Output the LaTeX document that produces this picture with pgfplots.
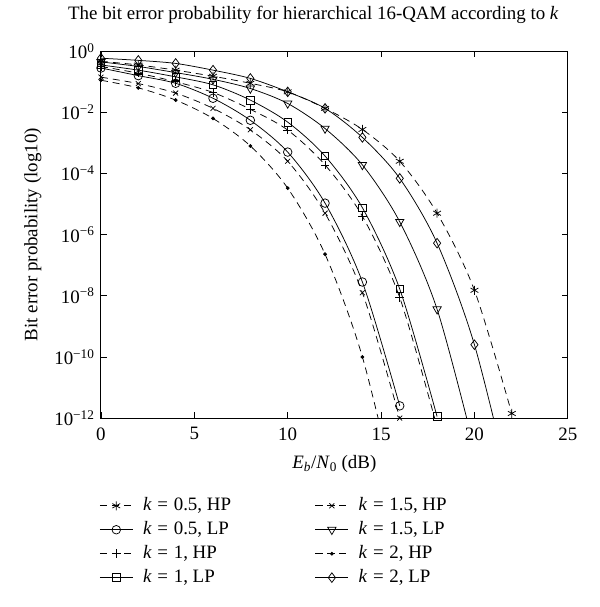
\documentclass[border=0pt]{standalone}
\usepackage{pgfplots}
\pgfplotsset{compat=1.18}
\usepackage{fontspec}
\setmainfont{Liberation Serif}
\newcommand{\kk}[1]{\textit{k}\hspace{0.3em}=\hspace{0.3em}#1}
\begin{document}
\fontsize{19}{22}\selectfont
\begin{tikzpicture}[font=\fontsize{19}{22}\selectfont]
\begin{axis}[
  scale only axis, width=467bp, height=367bp,
  xmin=0, xmax=25, ymin=-12, ymax=0,
  xtick={0,5,...,25},
  ytick={-12,-10,...,0},
  yticklabels={10\textsuperscript{−12},10\textsuperscript{−10},10\textsuperscript{−8},10\textsuperscript{−6},10\textsuperscript{−4},10\textsuperscript{−2},10\textsuperscript{0}},
  /pgf/number format/assume math mode=true,
  tick align=inside, major tick length=6bp,
  axis line style={line width=1pt},
  every tick/.style={black, line width=0.8pt},
  xticklabel style={yshift=-3bp},
  title={The bit error probability for hierarchical 16-QAM according to \textit{k}},
  title style={xshift=-21bp, yshift=15bp},
  xlabel={\textit{E}\textsubscript{\textit{b}}/\textit{N}\textsubscript{0} (dB)},
  xlabel style={yshift=-2bp},
  ylabel={Bit error probability (log10)},
  legend columns=2,
  legend cell align=left,
  legend style={draw=none, fill=none, at={(-0.01,-0.206)}, anchor=north west,
    row sep=4pt,
    /tikz/every odd column/.append style={column sep=8bp},
    /tikz/every even column/.append style={column sep=82bp}},
  legend image code/.code={\draw[mark repeat=2,mark phase=2] plot coordinates {(0cm,0cm) (0.58cm,0cm) (1.16cm,0cm)};},
  hp/.style={black, line width=0.75pt, dash pattern=on 7pt off 5pt, mark options={solid, line width=0.75pt}},
  lp/.style={black, line width=0.75pt, solid, mark options={solid, line width=0.75pt}},
]
% order: 0.5HP, 1.5HP, 0.5LP, 1.5LP, 1HP, 2HP, 1LP, 2LP
\addplot[hp, smooth, mark=asterisk, mark size=4.5pt] coordinates {(0,-0.33)(2,-0.45)(4,-0.62)(6,-0.82)(8,-1.05)(10,-1.33)(12,-1.87)(14,-2.56)(16,-3.6)(18,-5.3)(20,-7.82)(22,-11.85)};
\addlegendentry{\kk{0.5}, HP}
\addplot[hp, smooth, mark=x, mark size=3.5pt] coordinates {(0,-0.85)(2,-1.06)(4,-1.37)(6,-1.87)(8,-2.57)(10,-3.6)(12,-5.3)(14,-7.9)(16,-12.0)};
\addlegendentry{\kk{1.5}, HP}
\addplot[lp, smooth, mark=o, mark size=4.3pt] coordinates {(0,-0.55)(2,-0.8)(4,-1.05)(6,-1.54)(8,-2.26)(10,-3.3)(12,-4.97)(14,-7.55)(16,-11.6)};
\addlegendentry{\kk{0.5}, LP}
\addplot[lp, smooth, mark=triangle, mark size=4.8pt, mark options={rotate=180}] coordinates {(0,-0.35)(2,-0.5)(4,-0.7)(6,-0.92)(8,-1.22)(10,-1.71)(12,-2.53)(14,-3.72)(16,-5.58)(18,-8.44)(20,-13.0)};
\addlegendentry{\kk{1.5}, LP}
\addplot[hp, smooth, mark=+, mark size=4.3pt] coordinates {(0,-0.5)(2,-0.72)(4,-1.0)(6,-1.35)(8,-1.9)(10,-2.58)(12,-3.72)(14,-5.4)(16,-8.06)(18,-12.3)};
\addlegendentry{\kk{1}, HP}
\addplot[hp, smooth, mark=*, mark size=1.5pt] coordinates {(0,-0.95)(2,-1.2)(4,-1.6)(6,-2.2)(8,-3.1)(10,-4.48)(12,-6.64)(14,-10.0)(16,-15)};
\addlegendentry{\kk{2}, HP}
\addplot[lp, smooth, mark=square, mark size=3.8pt] coordinates {(0,-0.45)(2,-0.62)(4,-0.84)(6,-1.1)(8,-1.6)(10,-2.32)(12,-3.43)(14,-5.12)(16,-7.78)(18,-11.95)};
\addlegendentry{\kk{1}, LP}
\addplot[lp, smooth, mark=diamond, mark size=4.8pt] coordinates {(0,-0.23)(2,-0.3)(4,-0.4)(6,-0.62)(8,-0.89)(10,-1.33)(12,-1.87)(14,-2.82)(16,-4.16)(18,-6.28)(20,-9.6)(22,-14.5)};
\addlegendentry{\kk{2}, LP}
\end{axis}
\path (current axis.south west) ++(-101bp,-189bp) rectangle ++(600bp,607bp);
\end{tikzpicture}
\end{document}
